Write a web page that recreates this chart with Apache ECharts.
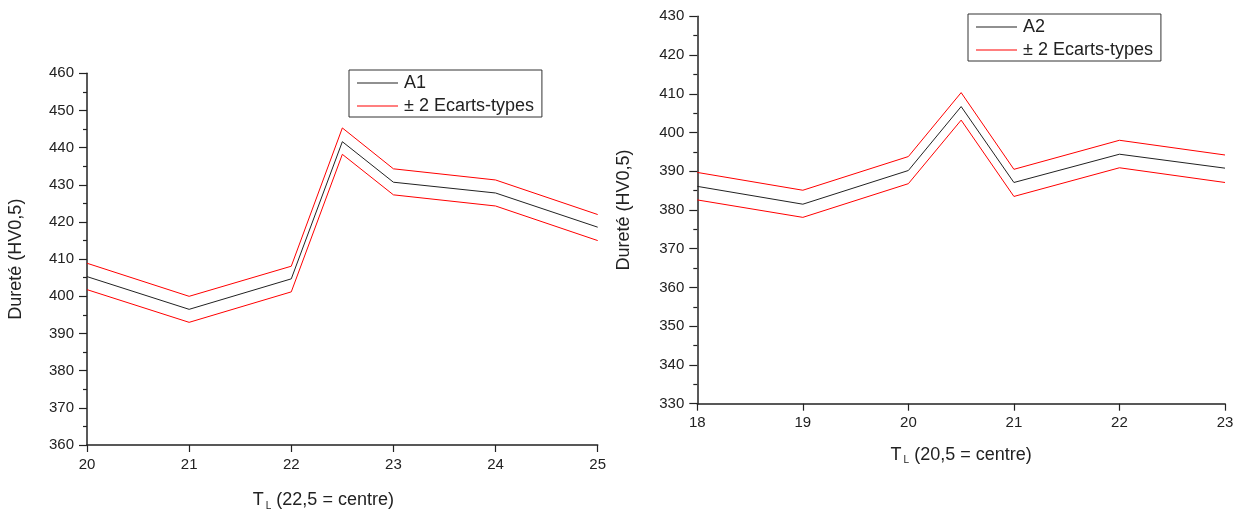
<!DOCTYPE html>
<html>
<head>
<meta charset="utf-8">
<script src="https://cdn.jsdelivr.net/npm/echarts@6/dist/echarts.min.js"></script>
<style>
html,body{margin:0;padding:0;background:#fff;}
#c{width:1243px;height:516px;}
</style>
</head>
<body>
<div id="c"></div>
<script>
// ---- Data ----
const xA1 = [20, 21, 22, 22.5, 23, 24, 25];
const a1 = [405.3, 396.5, 404.7, 441.6, 430.7, 427.8, 418.6];
const a1Up = [408.9, 400.0, 408.1, 445.3, 434.3, 431.3, 422.0];
const a1Lo = [401.8, 393.0, 401.2, 438.2, 427.3, 424.3, 415.0];

const xA2 = [18, 19, 20, 20.5, 21, 22, 23];
const a2 = [386.1, 381.5, 390.2, 406.7, 387.1, 394.4, 390.8];
const a2Up = [389.7, 385.1, 393.8, 410.3, 390.5, 398.0, 394.2];
const a2Lo = [382.6, 378.1, 386.8, 403.2, 383.5, 390.9, 387.1];

const nameA1 = 'A1';
const nameA2 = 'A2';
const nameSD = '± 2 Ecarts-types';
const yTitle = 'Dureté (HV0,5)';
const xTitle1 = '{t|T}{s|L} (22,5 = centre)';
const xTitle2 = '{t|T}{s|L} (20,5 = centre)';

const FONT = '"Liberation Sans", Arial, sans-serif';
const AX = '#222';

function pairs(xs, ys) { return xs.map((x, i) => [x, ys[i]]); }

function xAxisCfg(gi, min, max, title, gap, pad) {
  return {
    gridIndex: gi, type: 'value', min: min, max: max, interval: 1,
    name: title, nameLocation: 'middle', nameGap: gap,
    nameTextStyle: {
      fontFamily: FONT, fontSize: 18, color: AX, padding: pad,
      rich: {
        t: {fontFamily: FONT, fontSize: 18, color: AX},
        s: {fontFamily: FONT, fontSize: 10, color: AX, padding: [12, 0, 0, 2]}
      }
    },
    axisLine: {show: true, onZero: false, lineStyle: {color: AX, width: 1.5}},
    axisTick: {show: true, inside: false, length: 7, lineStyle: {color: AX, width: 1.2}},
    minorTick: {show: false},
    axisLabel: {fontFamily: FONT, fontSize: 15, color: AX, margin: 12},
    splitLine: {show: false}
  };
}
function yAxisCfg(gi, min, max, gap) {
  return {
    gridIndex: gi, type: 'value', min: min, max: max, interval: 10,
    name: yTitle, nameLocation: 'middle', nameGap: gap,
    nameTextStyle: {fontFamily: FONT, fontSize: 18, color: AX},
    axisLine: {show: true, onZero: false, lineStyle: {color: AX, width: 1.5}},
    axisTick: {show: true, inside: false, length: 8, lineStyle: {color: AX, width: 1.2}},
    minorTick: {show: true, splitNumber: 2, length: 4, lineStyle: {color: AX, width: 1.2}},
    axisLabel: {fontFamily: FONT, fontSize: 15, color: AX, margin: 13},
    splitLine: {show: false}
  };
}
function line(name, xi, yi, data, color) {
  return {
    name: name, type: 'line', xAxisIndex: xi, yAxisIndex: yi,
    data: data, symbol: 'none', showSymbol: false, silent: true,
    lineStyle: {color: color, width: 1}, itemStyle: {color: color},
    animation: false
  };
}
function legendCfg(names, left, top) {
  return {
    data: names.map(n => ({name: n, icon: 'rect'})),
    orient: 'vertical', left: left, top: top,
    show: true, selectedMode: false,
    borderColor: '#333', borderWidth: 1, borderRadius: 0,
    padding: [3, 8, 1, 8], itemGap: 3,
    itemWidth: 41, itemHeight: 1,
    textStyle: {fontFamily: FONT, fontSize: 18, color: AX, lineHeight: 20, padding: [0, 0, 0, 1]}
  };
}

const chart = echarts.init(document.getElementById('c'), null, {renderer: 'canvas'});
chart.setOption({
  backgroundColor: '#fff',
  animation: false,
  grid: [
    {left: 87, top: 73.3, width: 510.7, height: 375.7},
    {left: 697.3, top: 16.3, width: 527.7, height: 387.4}
  ],
  xAxis: [
    xAxisCfg(0, 20, 25, xTitle1, 44, [0, 38, 0, 0]),
    xAxisCfg(1, 18, 23, xTitle2, 40, [0, 0, 0, 0])
  ],
  yAxis: [
    yAxisCfg(0, 360, 460, 62),
    yAxisCfg(1, 330, 430, 64)
  ],
  legend: [
    legendCfg([nameA1, nameSD], 349, 70),
    legendCfg([nameA2, nameSD], 968, 14)
  ],
  series: [
    line(nameA1, 0, 0, pairs(xA1, a1), '#222'),
    line(nameSD, 0, 0, pairs(xA1, a1Up), '#ff0000'),
    line(nameSD, 0, 0, pairs(xA1, a1Lo), '#ff0000'),
    line(nameA2, 1, 1, pairs(xA2, a2), '#222'),
    line(nameSD, 1, 1, pairs(xA2, a2Up), '#ff0000'),
    line(nameSD, 1, 1, pairs(xA2, a2Lo), '#ff0000')
  ]
});
</script>
</body>
</html>
